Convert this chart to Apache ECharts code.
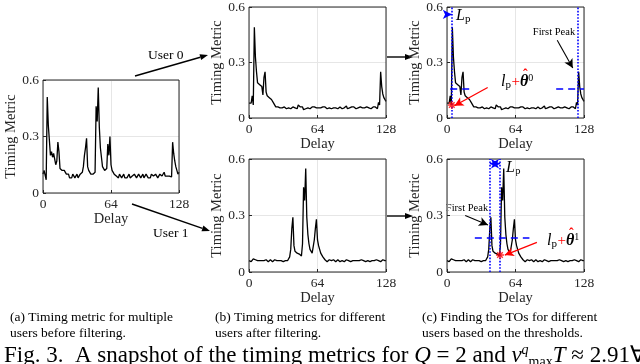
<!DOCTYPE html>
<html>
<head>
<meta charset="utf-8">
<script src="https://cdn.jsdelivr.net/npm/echarts@6/dist/echarts.min.js"></script>
<style>
html, body { margin: 0; padding: 0; background: #fff; }
#chart { width: 640px; height: 364px; }
</style>
</head>
<body>
<div id="chart"></div>
<script>
const xTicks = [0, 64, 128]
const yTicks = [0, 0.3, 0.6]

// (a) timing metric of both users before filtering, delay 0..128
const metricAll = [
  0.10, 0.12, 0.11, 0.07, 0.51, 0.36, 0.28, 0.20, 0.22, 0.19,
  0.21, 0.18, 0.15, 0.17, 0.27, 0.22, 0.13, 0.14, 0.12, 0.13,
  0.12, 0.11, 0.10, 0.09, 0.10, 0.08, 0.09, 0.08, 0.10, 0.09,
  0.08, 0.09, 0.10, 0.08, 0.09, 0.10, 0.09, 0.11, 0.14, 0.20,
  0.24, 0.29, 0.14, 0.12, 0.11, 0.10, 0.11, 0.10, 0.10, 0.11,
  0.46, 0.38, 0.56, 0.35, 0.24, 0.19, 0.14, 0.13, 0.12, 0.12,
  0.13, 0.26, 0.20, 0.30, 0.15, 0.12, 0.11, 0.10, 0.10, 0.09,
  0.09, 0.08, 0.10, 0.09, 0.08, 0.09, 0.10, 0.08, 0.09, 0.08,
  0.09, 0.10, 0.08, 0.09, 0.09, 0.08, 0.10, 0.09, 0.08, 0.09,
  0.10, 0.09, 0.08, 0.09, 0.10, 0.08, 0.09, 0.10, 0.09, 0.08,
  0.09, 0.08, 0.10, 0.09, 0.09, 0.08, 0.10, 0.09, 0.08, 0.09,
  0.10, 0.09, 0.09, 0.10, 0.11, 0.09, 0.10, 0.09, 0.10, 0.09,
  0.10, 0.085, 0.27, 0.21, 0.17, 0.14, 0.12, 0.10, 0.11
]

// (b)/(c) user 0 after filtering
const metricUser0 = [
  0.08, 0.09, 0.08, 0.12, 0.07, 0.49, 0.33, 0.25, 0.19, 0.20,
  0.18, 0.19, 0.17, 0.125, 0.22, 0.25, 0.14, 0.12, 0.125, 0.11,
  0.10, 0.10, 0.09, 0.08, 0.07, 0.06, 0.055, 0.06, 0.05, 0.055,
  0.06, 0.055, 0.05, 0.06, 0.055, 0.05, 0.06, 0.055, 0.06, 0.05,
  0.055, 0.06, 0.065, 0.055, 0.06, 0.05, 0.07, 0.065, 0.06, 0.055,
  0.06, 0.045, 0.055, 0.05, 0.06, 0.055, 0.06, 0.05, 0.055, 0.06,
  0.055, 0.06, 0.05, 0.055, 0.06, 0.055, 0.045, 0.055, 0.05, 0.06,
  0.055, 0.06, 0.055, 0.05, 0.06, 0.055, 0.06, 0.05, 0.06, 0.055,
  0.065, 0.055, 0.06, 0.05, 0.055, 0.06, 0.055, 0.05, 0.06, 0.055,
  0.06, 0.065, 0.05, 0.06, 0.055, 0.05, 0.06, 0.055, 0.06, 0.065,
  0.05, 0.06, 0.055, 0.065, 0.06, 0.05, 0.055, 0.06, 0.055, 0.05,
  0.06, 0.07, 0.055, 0.06, 0.05, 0.055, 0.06, 0.07, 0.06, 0.065,
  0.05, 0.085, 0.07, 0.25, 0.17, 0.13, 0.11, 0.10, 0.09
]

// (b)/(c) user 1 after filtering
const metricUser1 = [
  0.06, 0.065, 0.055, 0.06, 0.07, 0.06, 0.065, 0.055, 0.06, 0.065,
  0.06, 0.055, 0.06, 0.065, 0.06, 0.055, 0.065, 0.06, 0.055, 0.06,
  0.065, 0.06, 0.055, 0.06, 0.065, 0.055, 0.06, 0.065, 0.06, 0.055,
  0.06, 0.065, 0.055, 0.06, 0.06, 0.065, 0.06, 0.065, 0.08, 0.12,
  0.23, 0.29, 0.14, 0.11, 0.10, 0.10, 0.09, 0.095, 0.09, 0.085,
  0.15, 0.45, 0.38, 0.55, 0.29, 0.20, 0.15, 0.12, 0.11, 0.10,
  0.11, 0.17, 0.23, 0.28, 0.17, 0.14, 0.12, 0.10, 0.09, 0.08,
  0.07, 0.065, 0.06, 0.055, 0.06, 0.065, 0.055, 0.06, 0.055, 0.065,
  0.06, 0.055, 0.06, 0.065, 0.06, 0.055, 0.06, 0.06, 0.065, 0.055,
  0.06, 0.065, 0.055, 0.06, 0.06, 0.055, 0.065, 0.06, 0.055, 0.06,
  0.065, 0.06, 0.055, 0.06, 0.06, 0.065, 0.055, 0.06, 0.06, 0.055,
  0.065, 0.06, 0.06, 0.055, 0.065, 0.06, 0.055, 0.06, 0.06, 0.065,
  0.055, 0.06, 0.06, 0.055, 0.06, 0.065, 0.055, 0.06, 0.06
]

// (c) annotations in data units
const user0Edges = [4.5, 122.5]
const user0Threshold = 0.16
const user0ThresholdSpans = [[3, 23], [102, 128]]
const user0Start = [4.5, 0.07]
const user1Edges = [40.2, 49.5]
const user1Threshold = 0.18
const user1ThresholdSpans = [[26, 77]]
const user1Start = [49.5, 0.09]

const FONT = 'Liberation Serif'
const BLUE = '#0000ff'
const RED = '#ff0000'

const chart = echarts.init(document.getElementById('chart'))

const grids = [
  { left: 43, top: 80, width: 136, height: 113 },
  { left: 249, top: 6, width: 137, height: 112 },
  { left: 249, top: 159, width: 137, height: 113 },
  { left: 447, top: 6, width: 137, height: 112 },
  { left: 447, top: 159, width: 137, height: 113 }
]

const toPairs = arr => arr.map((v, i) => [i, v])

function xAxisFor(i) {
  return {
    gridIndex: i, type: 'value',
    min: xTicks[0], max: xTicks[xTicks.length - 1], interval: xTicks[1] - xTicks[0],
    name: 'Delay', nameLocation: 'middle', nameGap: 16,
    nameTextStyle: { fontFamily: FONT, fontSize: 14.5, color: '#262626' },
    axisLine: { show: false },
    axisTick: { inside: true, length: 3, lineStyle: { color: '#262626' } },
    axisLabel: { fontFamily: FONT, fontSize: 13.5, color: '#262626', margin: 4 },
    splitLine: { lineStyle: { color: '#e6e6e6' } }
  }
}

function yAxisFor(i) {
  return {
    gridIndex: i, type: 'value',
    min: yTicks[0], max: yTicks[yTicks.length - 1], interval: yTicks[1] - yTicks[0],
    name: 'Timing Metric', nameLocation: 'middle', nameGap: 23,
    nameTextStyle: { fontFamily: FONT, fontSize: 14.5, color: '#262626' },
    axisLine: { show: false },
    axisTick: { inside: true, length: 3, lineStyle: { color: '#262626' } },
    axisLabel: {
      fontFamily: FONT, fontSize: 13.5, color: '#262626', margin: 4,
      formatter: v => (v === 0 ? '0' : v.toFixed(1))
    },
    splitLine: { lineStyle: { color: '#e6e6e6' } }
  }
}

function metricSeries(i, data) {
  return {
    type: 'line', xAxisIndex: i, yAxisIndex: i,
    data: toPairs(data), showSymbol: false, clip: false,
    lineStyle: { color: '#000', width: 1.3 }, z: 2
  }
}

function seg(p, q, style, s1, s2) {
  return [
    { coord: p, lineStyle: style, symbol: s1 || 'none', symbolSize: [7, 9] },
    { coord: q, symbol: s2 || 'none', symbolSize: [7, 9] }
  ]
}

const dotted = { color: BLUE, type: 'dotted', width: 1.6 }
const dashed = { color: BLUE, type: [7, 5], width: 1.6 }
const blueArrow = { color: BLUE, type: 'solid', width: 1.4 }
const redArrow = { color: RED, type: 'solid', width: 1.3 }
const blackArrow = { color: '#000', type: 'solid', width: 1.1 }

const user0Marks = [
  ...user0Edges.map(x => seg([x, 0], [x, 0.6], dotted)),
  ...user0ThresholdSpans.map(s => seg([s[0], user0Threshold], [s[1], user0Threshold], dashed)),
  seg([0, 0.56], [user0Edges[0], 0.56], blueArrow, 'none', 'arrow'),
  seg([136, 0.56], [user0Edges[1], 0.56], blueArrow, 'none', 'arrow'),
  seg([103, 0.42], [117.5, 0.27], blackArrow, 'none', 'arrow'),
  seg([38, 0.165], [7, 0.066], redArrow, 'none', 'arrow')
]

const user1Marks = [
  ...user1Edges.map(x => seg([x, 0], [x, 0.6], dotted)),
  ...user1ThresholdSpans.map(s => seg([s[0], user1Threshold], [s[1], user1Threshold], dashed)),
  seg([user1Edges[0], 0.575], [user1Edges[1], 0.575], blueArrow, 'arrow', 'arrow'),
  seg([17, 0.30], [38.3, 0.25], blackArrow, 'none', 'arrow'),
  seg([84, 0.157], [54, 0.09], redArrow, 'none', 'arrow')
]

function withMarks(series, marks) {
  series.markLine = {
    silent: true, animation: false, symbol: ['none', 'none'],
    label: { show: false }, emphasis: { disabled: true }, data: marks
  }
  return series
}

function startMarker(i, point) {
  return {
    type: 'scatter', xAxisIndex: i, yAxisIndex: i, data: [point],
    symbol: 'path://M0,-10L0,10M-10,0L10,0M-7,-7L7,7M-7,7L7,-7',
    symbolSize: 8, clip: false, z: 5,
    itemStyle: { color: 'rgba(0,0,0,0)', borderColor: RED, borderWidth: 1.4 }
  }
}

function arrow(x1, y1, x2, y2, color) {
  const a = Math.atan2(y2 - y1, x2 - x1)
  const len = 8, half = 3
  const bx = x2 - len * Math.cos(a), by = y2 - len * Math.sin(a)
  return [
    { type: 'line', shape: { x1, y1, x2: bx, y2: by }, style: { stroke: color, lineWidth: 1.4 } },
    {
      type: 'polygon',
      shape: { points: [[x2, y2], [bx - half * Math.sin(a), by + half * Math.cos(a)], [bx + half * Math.sin(a), by - half * Math.cos(a)]] },
      style: { fill: color }
    }
  ]
}

function label(x, y, text, size, extra) {
  return {
    type: 'text', x, y,
    style: Object.assign({
      text, fontFamily: FONT, fontSize: size, fill: '#000',
      textAlign: 'left', textVerticalAlign: 'middle'
    }, extra || {})
  }
}

const lpRich = {
  L: { fontFamily: FONT, fontStyle: 'italic', fontSize: 16, lineHeight: 18, color: BLUE },
  p: { fontFamily: FONT, fontSize: 11, lineHeight: 10, verticalAlign: 'bottom', color: BLUE }
}
const toRich = {
  l: { fontFamily: FONT, fontStyle: 'italic', fontSize: 16, lineHeight: 18, color: RED },
  p: { fontFamily: FONT, fontSize: 11, lineHeight: 10, verticalAlign: 'bottom', color: RED },
  th: { fontFamily: FONT, fontStyle: 'italic', fontWeight: 'bold', fontSize: 16, lineHeight: 18, color: RED },
  s: { fontFamily: FONT, fontSize: 10, lineHeight: 10, verticalAlign: 'top', color: RED }
}
const figRich = {
  r: { fontFamily: FONT, fontSize: 23, lineHeight: 26, color: '#000' },
  i: { fontFamily: FONT, fontStyle: 'italic', fontSize: 23, lineHeight: 26, color: '#000' },
  sup: { fontFamily: FONT, fontStyle: 'italic', fontSize: 14, lineHeight: 14, verticalAlign: 'top', color: '#000' },
  sub: { fontFamily: FONT, fontSize: 14, lineHeight: 12, verticalAlign: 'bottom', color: '#000' }
}

// red "l_p + theta-hat^u" labels: plus sign and hat drawn as separate glyphs
function toLabel(x, y, user) {
  return {
    type: 'group', x, y, z: 10,
    children: [
      { type: 'text', x: 0, y: 0, z: 10, style: { text: '{l|l}{p|p}', rich: toRich, textVerticalAlign: 'middle' } },
      { type: 'text', x: 10.5, y: 0, z: 10, style: { text: '+', fontFamily: FONT, fontSize: 15, fill: RED, textVerticalAlign: 'middle' } },
      { type: 'text', x: 19, y: 0, z: 10, style: { text: '{th|θ}{s|' + user + '}', rich: toRich, textVerticalAlign: 'middle' } },
      { type: 'text', x: 22, y: -7, z: 10, style: { text: 'ˆ', fontFamily: FONT, fontSize: 14, fontWeight: 'bold', fill: RED, textVerticalAlign: 'middle' } }
    ]
  }
}

const graphics = [
  ...arrow(135, 76, 208, 55, '#000'),
  ...arrow(132, 204, 210, 231, '#000'),
  ...arrow(387, 57, 413, 57, '#000'),
  ...arrow(387, 216, 413, 216, '#000'),
  label(148, 55, 'User 0', 13.5),
  label(153, 233, 'User 1', 13.5),
  label(554, 32, 'First Peak', 10.5, { textAlign: 'center' }),
  label(467, 208, 'First Peak', 10.5, { textAlign: 'center' }),
  { type: 'text', x: 456, y: 16, style: { text: '{L|L}{p|p}', rich: lpRich, textVerticalAlign: 'middle' } },
  { type: 'text', x: 506, y: 168, style: { text: '{L|L}{p|p}', rich: lpRich, textVerticalAlign: 'middle' } },
  toLabel(501, 82, '0'),
  toLabel(547, 241, '1'),
  label(10, 317, '(a) Timing metric for multiple', 13.5),
  label(10, 333, 'users before filtering.', 13.5),
  label(215, 317, '(b) Timing metrics for different', 13.5),
  label(215, 333, 'users after filtering.', 13.5),
  label(422, 317, '(c) Finding the TOs for different', 13.5),
  label(422, 333, 'users based on the thresholds.', 13.5),
  {
    type: 'text', x: 4, y: 356,
    style: {
      text: '{r|Fig. 3.  A snapshot of the timing metrics for }{i|Q}{r| = 2 and }{i|ν}{sup|q}{sub|max}{i|T}{r| ≈ 2.91∀}',
      rich: figRich, textVerticalAlign: 'middle'
    }
  }
]

const option = {
  animation: false,
  backgroundColor: '#fff',
  grid: grids.map(g => Object.assign({ show: true, borderColor: '#262626', borderWidth: 1, z: 3 }, g)),
  xAxis: grids.map((g, i) => xAxisFor(i)),
  yAxis: grids.map((g, i) => yAxisFor(i)),
  series: [
    metricSeries(0, metricAll),
    metricSeries(1, metricUser0),
    metricSeries(2, metricUser1),
    withMarks(metricSeries(3, metricUser0), user0Marks),
    withMarks(metricSeries(4, metricUser1), user1Marks),
    startMarker(3, user0Start),
    startMarker(4, user1Start)
  ],
  graphic: graphics
}

chart.setOption(option)
</script>
</body>
</html>
